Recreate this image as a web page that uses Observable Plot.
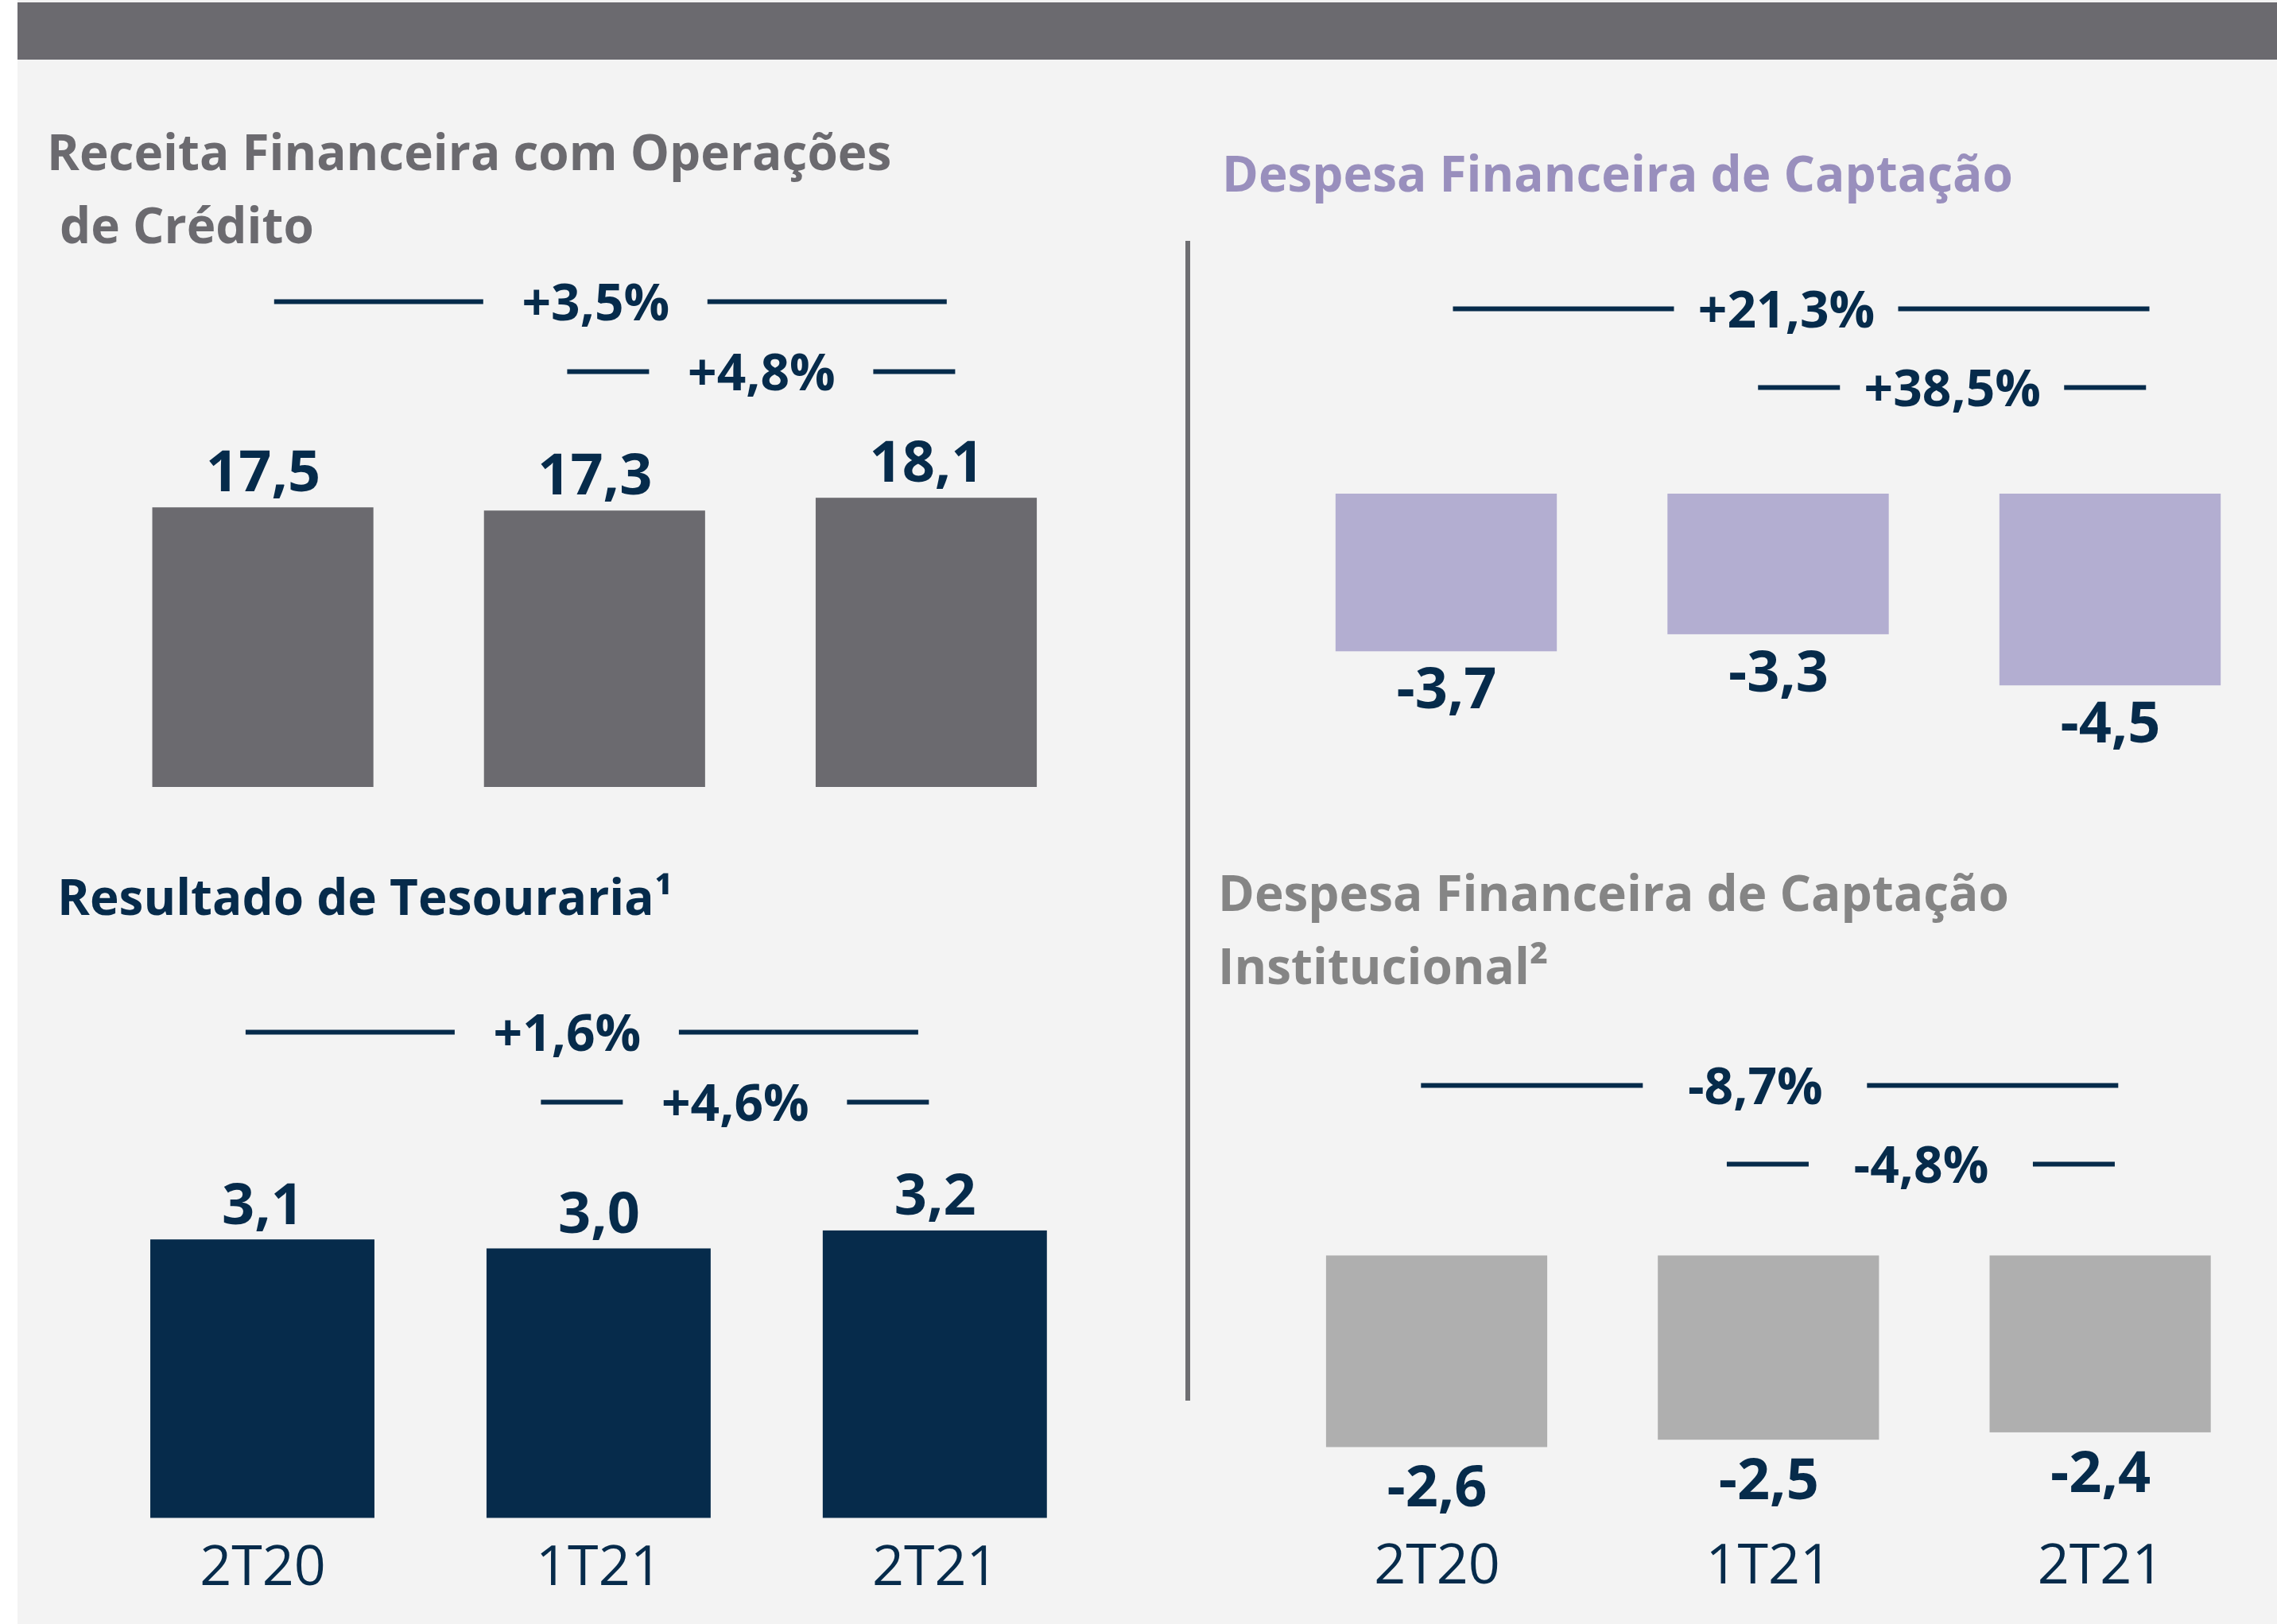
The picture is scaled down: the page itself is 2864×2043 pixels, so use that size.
<!DOCTYPE html>
<html>
<head>
<meta charset="utf-8">
<script src="https://cdn.jsdelivr.net/npm/d3@7"></script>
<script src="https://cdn.jsdelivr.net/npm/@observablehq/plot@0.6"></script>
<style>
  html, body { margin: 0; padding: 0; background: #ffffff; }
  #page { position: relative; width: 2864px; height: 2043px; background: #ffffff; overflow: hidden; font-family: "Open Sans", sans-serif; }
  #panel { position: absolute; left: 22px; top: 0; width: 2842px; height: 2043px; background: #f3f3f3; }
  #band { position: absolute; left: 22px; top: 3px; width: 2842px; height: 72px; background: #6b6a6f; }
  #divider { position: absolute; left: 1491px; top: 303px; width: 6px; height: 1459px; background: #6e6e72; }
  .title { position: absolute; font-family: "Open Sans", sans-serif; font-weight: 700; font-size: 62px; line-height: 92px; white-space: pre; margin: 0; }
  .chart { position: absolute; }
  .chart svg { background: transparent; overflow: visible; max-width: none; }
</style>
</head>
<body>
<div id="page">
  <div id="panel"></div>
  <div id="band"></div>
  <div id="divider"></div>
  <div class="title" style="left:59px; top:144px; color:#6b6a6f;">Receita Financeira com Operações
 de Crédito</div>
  <div class="title" style="left:1537px; top:171px; color:#998fbd;">Despesa Financeira de Captação</div>
  <div class="title" style="left:72px; top:1081px; color:#062b4b;">Resultado de Tesouraria¹</div>
  <div class="title" style="left:1532px; top:1076px; color:#858585;">Despesa Financeira de Captação
Institucional²</div>
</div>
<script>
// ---------- data ----------
const categories = ["2T20", "1T21", "2T21"];
const receita = [17.5, 17.3, 18.1];
const despesa = [-3.7, -3.3, -4.5];
const tesouraria = [3.1, 3.0, 3.2];
const institucional = [-2.6, -2.5, -2.4];

const changeFrom = ["2T20", "1T21"];
const changeTo = ["2T21", "2T21"];
const receitaChanges = ["+3,5%", "+4,8%"];
const despesaChanges = ["+21,3%", "+38,5%"];
const tesourariaChanges = ["+1,6%", "+4,6%"];
const institucionalChanges = ["-8,7%", "-4,8%"];

// ---------- styling / layout ----------
const navy = "#062b4b";
const font = "Open Sans";

const panels = [
  {values: receita, changes: receitaChanges, fill: "#6b6a6f",
   box: {left: 22, top: 80, width: 1460, height: 950},
   cx0: 330.6, step: 417.2, base: 990, k: 20.1, rows: [379, 467], shift: 1, a1: [404, 442], gap: 21, xLabels: false},
  {values: despesa, changes: despesaChanges, fill: "#b3aed1",
   box: {left: 1497, top: 80, width: 1367, height: 950},
   cx0: 1819, step: 417.5, base: 621, k: 53.6, rows: [388, 487], shift: 10, a1: [419, 457], gap: 20, xLabels: false},
  {values: tesouraria, changes: tesourariaChanges, fill: navy,
   box: {left: 22, top: 1030, width: 1460, height: 1013},
   cx0: 330, step: 422.9, base: 1909.5, k: 113, rows: [1297.6, 1385.7], shift: -40, a1: [404, 442], gap: 20, xLabels: true, xBase: 1993},
  {values: institucional, changes: institucionalChanges, fill: "#afafaf",
   box: {left: 1497, top: 1030, width: 1367, height: 1013},
   cx0: 1807, step: 417.3, base: 1579.4, k: 92.7, rows: [1365, 1464], shift: -17, a1: [420, 457], gap: 23, xLabels: true, xBase: 1991}
];

const fmt = v => v.toFixed(1).replace(".", ",");
const page = document.getElementById("page");

function place(svg, box) {
  const div = document.createElement("div");
  div.className = "chart";
  div.style.left = box.left + "px";
  div.style.top = box.top + "px";
  div.style.width = box.width + "px";
  div.style.height = box.height + "px";
  div.appendChild(svg);
  page.appendChild(div);
}

for (const p of panels) {
  const L = p.box.left, T = p.box.top;
  const xRange = [p.cx0 - L - 0.5 * p.step, p.cx0 - L + 2.5 * p.step];
  const neg = p.values[0] < 0;
  const D = 100;
  const yDomain = neg ? [-D, 0] : [0, D];
  const yRange = neg ? [p.base - T + p.k * D, p.base - T] : [p.base - T, p.base - T - p.k * D];

  const rows = categories.map((c, i) => ({c, i, v: p.values[i], label: fmt(p.values[i])}));

  const marks = [
    Plot.rectY(rows, {x1: d => d.i - 1 / 3, x2: d => d.i + 1 / 3, y1: d => 0, y2: d => d.v, fill: p.fill}),
    Plot.text(rows, {x: "i", y: "v", text: "label", lineAnchor: neg ? "top" : "bottom", dy: neg ? p.gap : -p.gap,
      fontSize: 72, fontWeight: 700, fill: navy, fontFamily: font})
  ];
  if (p.xLabels) {
    marks.push(Plot.text(rows, {x: "i", text: "c", frameAnchor: "bottom", lineAnchor: "bottom",
      dy: -(p.box.height - (p.xBase - T)), fontSize: 70, fontWeight: 400, fill: navy, fontFamily: font}));
  }

  const bars = Plot.plot({
    width: p.box.width, height: p.box.height,
    margin: 0, marginTop: 0, marginRight: 0, marginBottom: 0, marginLeft: 0,
    style: {background: "transparent", overflow: "visible", maxWidth: "none", fontFamily: font},
    x: {domain: [-0.5, 2.5], range: xRange, axis: null},
    y: {domain: yDomain, range: yRange, axis: null},
    marks
  });
  place(bars, p.box);

  // change annotations
  const ann = p.changes.map((label, j) => {
    const from = categories.indexOf(changeFrom[j]);
    const to = categories.indexOf(changeTo[j]);
    const span = to - from;
    const cx = (from + to) / 2 + p.shift / p.step;
    return {label, row: "r" + j, cx, span};
  });
  const inner = 141, outer = 244;
  const segs = ann.flatMap(a => {
    const lo = a.span > 1 ? p.a1[0] : outer;
    const hi = a.span > 1 ? p.a1[1] : outer;
    return [
      {row: a.row, x1: a.cx - lo / p.step, x2: a.cx - inner / p.step},
      {row: a.row, x1: a.cx + inner / p.step, x2: a.cx + hi / p.step}
    ];
  });

  const notes = Plot.plot({
    width: p.box.width, height: p.box.height,
    margin: 0, marginTop: 0, marginRight: 0, marginBottom: 0, marginLeft: 0,
    style: {background: "transparent", overflow: "visible", maxWidth: "none", fontFamily: font},
    x: {domain: [-0.5, 2.5], range: xRange, axis: null},
    y: {type: "point", domain: ["r0", "r1"], range: [p.rows[0] - T, p.rows[1] - T], padding: 0, axis: null},
    marks: [
      Plot.ruleY(segs, {y: "row", x1: "x1", x2: "x2", stroke: navy, strokeWidth: 6}),
      Plot.text(ann, {x: "cx", y: "row", text: "label", lineAnchor: "bottom", dy: 23,
        fontSize: 64, fontWeight: 700, fill: navy, fontFamily: font})
    ]
  });
  place(notes, p.box);
}
</script>
</body>
</html>
